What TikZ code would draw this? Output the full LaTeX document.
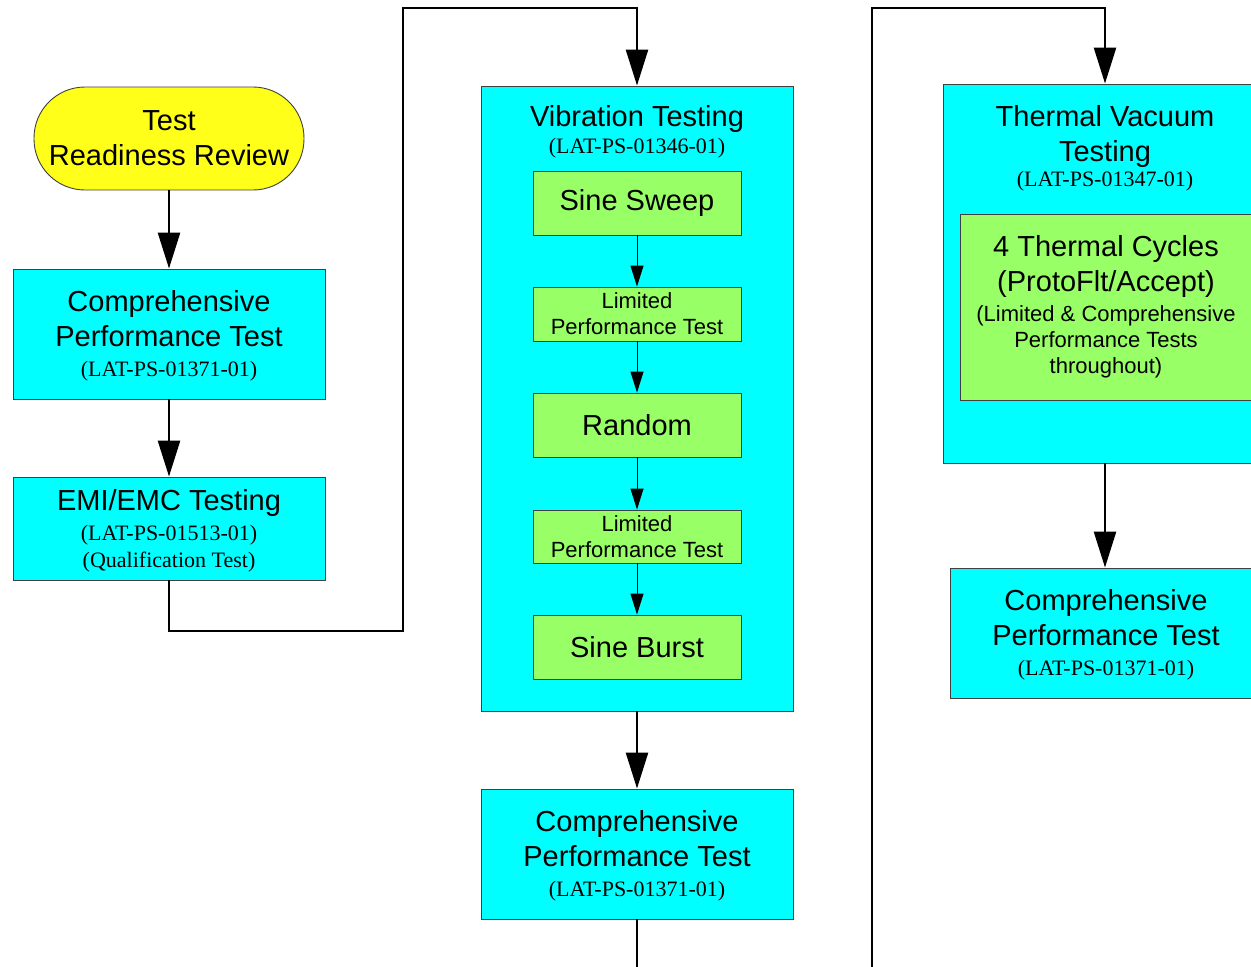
\documentclass[tikz,border=0pt]{standalone}
\usepackage{fontspec}
\setmainfont{Liberation Sans}
\newfontfamily\serifref{Liberation Serif}
\usetikzlibrary{arrows.meta}
\definecolor{cyanc}{RGB}{0,255,255}
\definecolor{yellowc}{RGB}{255,255,26}
\definecolor{greenc}{RGB}{153,255,102}
\newcommand\FA{\fontsize{29}{35}\selectfont}
\newcommand\FB{\fontsize{22}{27}\selectfont\serifref}
\newcommand\FC{\fontsize{22}{26}\selectfont}
\newcommand\TopStrut{\rule{0pt}{25pt}}
\begin{document}
\begin{tikzpicture}[x=1pt,y=-1pt,
  box/.style={draw=black!75, line width=0.9pt, inner sep=0pt, align=center, font=\FA},
  cbox/.style={box, fill=cyanc},
  gbox/.style={box, fill=greenc, minimum width=208pt},
  conn/.style={line width=2.6pt, -{Triangle[length=36pt,width=22pt]}},
  plain/.style={line width=2.6pt},
  sconn/.style={line width=1pt, -{Triangle[length=21pt,width=13pt]}}]
\useasboundingbox (0,0) rectangle (1251,967);
\clip (0,0) rectangle (1251,967);
\fill[white] (0,0) rectangle (1251,967);

% left column
\node[box, fill=yellowc, rounded corners=51pt, minimum width=270pt, minimum height=103pt] (trr) at (169,138.5) {Test\\Readiness Review};
\node[cbox, minimum width=312pt, minimum height=130pt] (cpt1) at (169,334) {\TopStrut Comprehensive\\Performance Test\\[-5pt]{\FB (LAT-PS-01371-01)}};
\node[cbox, minimum width=312pt, minimum height=103pt] (emi) at (169,528.5) {\TopStrut EMI/EMC Testing\\[-5pt]{\FB (LAT-PS-01513-01)}\\[-8pt]{\FB (Qualification Test)}};

% middle column
\node[cbox, minimum width=312pt, minimum height=625pt] (vib) at (637,398.5) {};
\node[font=\FA, align=center, inner sep=0pt] (vibt) at (637,132) {Vibration Testing\\[-8pt]{\FB (LAT-PS-01346-01)}};
\node[gbox, minimum height=64pt] (ss) at (637,203) {Sine Sweep};
\node[gbox, minimum height=54pt, font=\FC] (lp1) at (637,314) {Limited\\Performance Test};
\node[gbox, minimum height=64pt] (rnd) at (637,425) {Random};
\node[gbox, minimum height=53pt, font=\FC] (lp2) at (637,536.5) {Limited\\Performance Test};
\node[gbox, minimum height=64pt] (sb) at (637,647) {Sine Burst};
\node[cbox, minimum width=312pt, minimum height=130pt] (cpt2) at (637,854) {\TopStrut Comprehensive\\Performance Test\\[-5pt]{\FB (LAT-PS-01371-01)}};

% right column
\node[cbox, minimum width=324pt, minimum height=379pt] (tv) at (1105,273.5) {};
\node[font=\FA, align=center, inner sep=0pt] (tvt) at (1105,148) {Thermal Vacuum\\Testing\\[-10pt]{\FB (LAT-PS-01347-01)}};
\node[box, fill=greenc, minimum width=292pt, minimum height=186pt] (tc) at (1106,307) {4 Thermal Cycles\\(ProtoFlt/Accept)\\[-5pt]{\FC (Limited \& Comprehensive}\\[-9pt]{\FC Performance Tests}\\[-9pt]{\FC throughout)}};
\node[cbox, minimum width=312pt, minimum height=130pt] (cpt3) at (1106,633) {\TopStrut Comprehensive\\Performance Test\\[-5pt]{\FB (LAT-PS-01371-01)}};

% connector points
\coordinate (c1) at (403,631);
\coordinate (c2) at (403,8);
\coordinate (c3) at (637,975);
\coordinate (c4) at (872,975);
\coordinate (c5) at (872,8);

% connectors
\draw[conn] (trr) -- (cpt1);
\draw[conn] (cpt1) -- (emi);
\draw[conn] (emi.south) |- (c1) -- (c2) -| (vib.north);
\draw[sconn] (ss) -- (lp1);
\draw[sconn] (lp1) -- (rnd);
\draw[sconn] (rnd) -- (lp2);
\draw[sconn] (lp2) -- (sb);
\draw[conn] (vib) -- (cpt2);
\draw[plain] (cpt2.south) -- (c3);
\draw[conn] (c4) -- (c5) -| (tv.north);
\draw[conn] (tv.south) -- (tv.south |- cpt3.north);
\end{tikzpicture}
\end{document}
